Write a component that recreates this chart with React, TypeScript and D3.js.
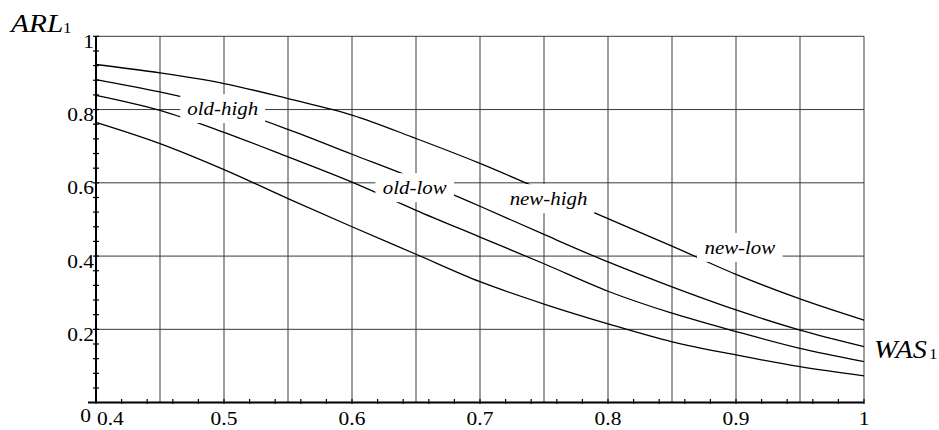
import React, { useEffect, useRef } from "react";
import * as d3 from "d3";

// WAS1 values where the curves were read (x axis)
const wasValues = [0.4, 0.45, 0.5, 0.55, 0.6, 0.65, 0.7, 0.75, 0.8, 0.85, 0.9, 0.95, 1.0];

// ARL1 values, top curve to bottom curve
const curveTop = [0.923, 0.9, 0.871, 0.83, 0.785, 0.721, 0.653, 0.578, 0.502, 0.427, 0.35, 0.283, 0.225];
const curveSecond = [0.882, 0.848, 0.806, 0.746, 0.678, 0.61, 0.536, 0.459, 0.384, 0.316, 0.253, 0.198, 0.153];
const curveThird = [0.839, 0.798, 0.738, 0.671, 0.602, 0.525, 0.452, 0.379, 0.304, 0.244, 0.194, 0.148, 0.112];
const curveBottom = [0.765, 0.707, 0.636, 0.557, 0.48, 0.405, 0.33, 0.269, 0.215, 0.166, 0.13, 0.098, 0.073];

// in-plot labels (centre x in WAS1, baseline in ARL1)
const labelTexts = ["old-high", "old-low", "new-high", "new-low"];
const labelWas = [0.499, 0.649, 0.7535, 0.903];
const labelArl = [0.785, 0.569, 0.539, 0.406];

const xTickValues = [0.4, 0.5, 0.6, 0.7, 0.8, 0.9, 1.0];
const xTickText = ["0.4", "0.5", "0.6", "0.7", "0.8", "0.9", "1"];
const yTickValues = [0.2, 0.4, 0.6, 0.8, 1.0];
const yTickText = ["0.2", "0.4", "0.6", "0.8", "1"];

const W = 939;
const H = 430;
const SX = 1.13; // the original text is a bit wide
const FONT = "Liberation Serif";

const App = () => {
  const svgRef = useRef(null);

  useEffect(() => {
    const svg = d3.select(svgRef.current);
    svg.selectAll("*").remove();

    const x = d3.scaleLinear().domain([0.4, 1]).range([96, 864]);
    const y = d3.scaleLinear().domain([0, 1]).range([402.6, 36.3]);

    const addText = (g, px, py, str, size, anchor, italic) =>
      g
        .append("text")
        .attr("transform", `translate(${px},${py}) scale(${SX},1)`)
        .attr("text-anchor", anchor)
        .style("font-family", FONT)
        .style("font-size", `${size}px`)
        .style("font-style", italic ? "italic" : "normal")
        .attr("fill", "black")
        .text(str);

    // grid
    const grid = svg.append("g").attr("stroke", "#3a3a3a").attr("stroke-width", 1);
    grid
      .selectAll("line.v")
      .data(d3.range(0.45, 1.0001, 0.05))
      .join("line")
      .attr("x1", (d) => x(d))
      .attr("x2", (d) => x(d))
      .attr("y1", y(0))
      .attr("y2", y(1));
    grid
      .selectAll("line.h")
      .data(yTickValues)
      .join("line")
      .attr("x1", x(0.4))
      .attr("x2", x(1))
      .attr("y1", (d) => y(d))
      .attr("y2", (d) => y(d));

    // curves
    const line = d3
      .line()
      .x((d, i) => x(wasValues[i]))
      .y((d) => y(d))
      .curve(d3.curveMonotoneX);

    [curveTop, curveSecond, curveThird, curveBottom].forEach((c) => {
      svg
        .append("path")
        .datum(c)
        .attr("fill", "none")
        .attr("stroke", "black")
        .attr("stroke-width", 1.3)
        .attr("d", line);
    });

    // axes
    const axes = svg.append("g").attr("stroke", "black");
    axes
      .append("line")
      .attr("x1", x(0.4))
      .attr("x2", x(0.4))
      .attr("y1", y(0) + 1)
      .attr("y2", y(1))
      .attr("stroke-width", 2);
    axes
      .append("line")
      .attr("x1", x(0.4) - 8)
      .attr("x2", x(1))
      .attr("y1", y(0))
      .attr("y2", y(0))
      .attr("stroke-width", 2);
    axes
      .selectAll("line.yt")
      .data(d3.range(0.04, 1.0001, 0.04))
      .join("line")
      .attr("x1", x(0.4) - 3)
      .attr("x2", x(0.4) + 3)
      .attr("y1", (d) => y(d))
      .attr("y2", (d) => y(d))
      .attr("stroke-width", 1.2);
    axes
      .selectAll("line.xt")
      .data(d3.range(0.42, 1.0001, 0.02))
      .join("line")
      .attr("x1", (d) => x(d))
      .attr("x2", (d) => x(d))
      .attr("y1", y(0) - 3.5)
      .attr("y2", y(0) + 1.5)
      .attr("stroke-width", 1.2);

    // tick labels
    const tl = svg.append("g");
    yTickValues.forEach((v, i) => addText(tl, x(0.4) - 2, y(v) + 11.5, yTickText[i], 19, "end", false));
    addText(tl, x(0.4) - 5, y(0) + 19, "0", 19, "end", false);
    xTickValues.forEach((v, i) =>
      addText(tl, i === 0 ? x(v) + 1 : x(v), y(0) + 22.5, xTickText[i], 19, i === 0 ? "start" : "middle", false)
    );

    // axis titles
    addText(tl, 11, 32, "ARL", 26, "start", true);
    addText(tl, 63, 33, "1", 15, "start", false);
    addText(tl, 874, 358, "WAS", 25, "start", true);
    addText(tl, 929, 359, "1", 15, "start", false);

    // in-plot labels with white boxes
    const lab = svg.append("g");
    labelTexts.forEach((t, i) => {
      const lx = x(labelWas[i]);
      const ly = y(labelArl[i]);
      const rect = lab.append("rect").attr("fill", "white");
      const txt = addText(lab, lx, ly, t, 18.5, "middle", true);
      const bb = txt.node().getBBox();
      const w = bb.width * SX;
      rect
        .attr("x", lx - w / 2 - 7)
        .attr("y", ly - 21)
        .attr("width", w + 14)
        .attr("height", 29);
    });
  }, []);

  return (
    <div style={{ position: "absolute", left: 0, top: 0 }}>
      <svg ref={svgRef} width={W} height={H} style={{ display: "block", background: "white" }} />
    </div>
  );
};

export default App;
